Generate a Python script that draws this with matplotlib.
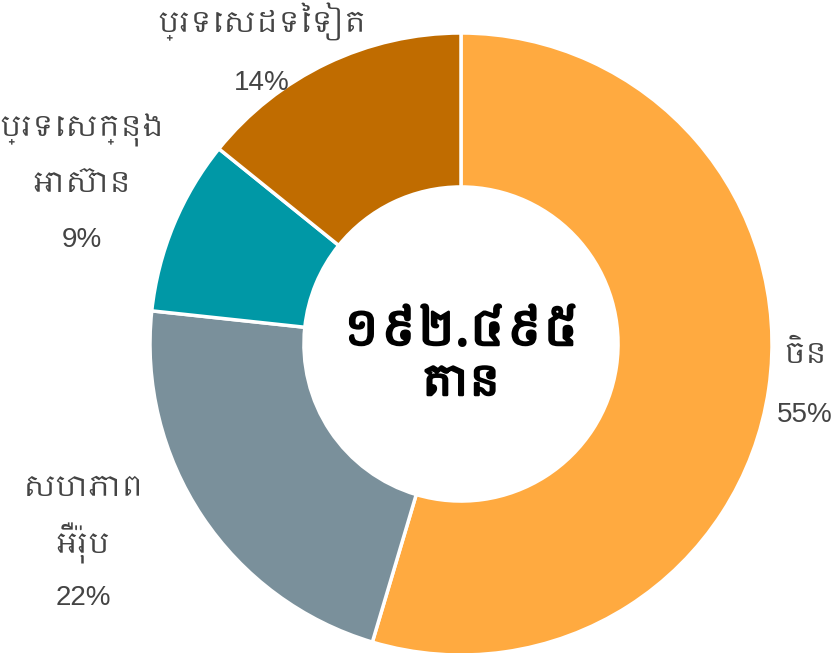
import matplotlib

matplotlib.use("Agg")
import matplotlib.pyplot as plt
import matplotlib.patheffects as pe
from matplotlib import font_manager

categories = ["ចិន", "សហភាពអឺរ៉ុប", "ប្រទេសក្នុងអាស៊ាន", "ប្រទេសដទៃទៀត"]
label_lines = [["ចិន"], ["សហភាព", "អឺរ៉ុប"], ["ប្រទេសក្នុង", "អាស៊ាន"], ["ប្រទេសដទៃទៀត"]]
shares = [54.6, 22.1, 9.1, 14.2]
colors = ["#ffaa40", "#7a909b", "#0098a6", "#c06c00"]
total_text = ["១៩២.៤៩៥", "តោន"]

# label anchors in pixels (x, y from top), per slice: first text line, line step
label_pos = [(805, 355, 60), (83, 488, 55), (82, 130, 55), (262, 22, 61)]


def khmer_families():
    names = []
    for f in font_manager.fontManager.ttflist:
        if "khmer" in f.name.lower() and f.name not in names:
            names.append(f.name)
    return names


family = khmer_families() + ["DejaVu Sans"]
pct_family = ["Liberation Sans", "DejaVu Sans"]

W, H = 832, 653
fig = plt.figure(figsize=(W / 100, H / 100), dpi=100)
ax = fig.add_axes([0, 0, 1, 1])

cx, cy, radius = 461, H - 344, 311
ax.pie(
    shares,
    colors=colors,
    startangle=90,
    counterclock=False,
    center=(cx, cy),
    radius=radius,
    frame=True,
    wedgeprops=dict(width=radius * 0.495, edgecolor="white", linewidth=2.5),
)
ax.set_xlim(0, W)
ax.set_ylim(0, H)
ax.set_aspect("equal")
ax.axis("off")

for lines, share, (x, y, step) in zip(label_lines, shares, label_pos):
    for i, line in enumerate(lines):
        ax.text(x, H - (y + i * step), line, ha="center", va="center",
                fontsize=21, color="#444444", family=family)
    ax.text(x, H - (y + len(lines) * step), f"{share:.0f}%", ha="center",
            va="center", fontsize=20, color="#444444", family=pct_family)

bold = [pe.withStroke(linewidth=1.8, foreground="black")]
ax.text(cx, H - 332, total_text[0], ha="center", va="center", fontsize=35,
        color="black", family=family, path_effects=bold)
ax.text(cx, H - 384, total_text[1], ha="center", va="center", fontsize=30,
        color="black", family=family, path_effects=bold)

fig.savefig("out.png", dpi=100)
